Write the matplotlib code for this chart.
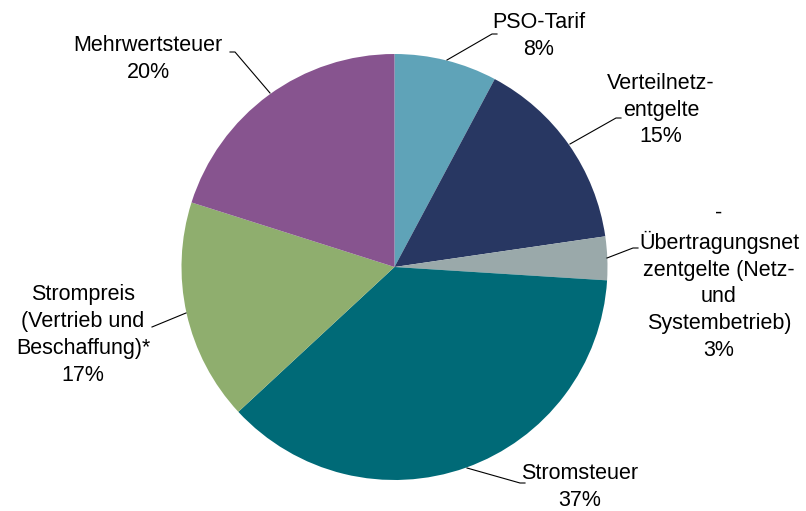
import matplotlib
matplotlib.use("Agg")
import matplotlib.pyplot as plt

categories = ["PSO-Tarif", "Verteilnetz-\nentgelte",
              "-\nÜbertragungsnet\nzentgelte (Netz-\nund\nSystembetrieb)",
              "Stromsteuer", "Strompreis\n(Vertrieb und\nBeschaffung)*",
              "Mehrwertsteuer"]
values = [7.8, 14.9, 3.3, 37.1, 16.8, 20.1]
pct_labels = ["8%", "15%", "3%", "37%", "17%", "20%"]
colors = ["#5fa3b8", "#283762", "#9aa9aa", "#006a77", "#8fae6e", "#87548f"]

W, H = 806, 511
fig = plt.figure(figsize=(W / 100, H / 100), dpi=100)
ax = fig.add_axes([0, 0, 1, 1])

cx, cy, r = 394.5, H - 267, 213
ax.pie(values, colors=colors, startangle=90, counterclock=False,
       center=(cx, cy), radius=r, frame=True,
       wedgeprops=dict(linewidth=0))
ax.set_xlim(0, W)
ax.set_ylim(0, H)
ax.set_aspect("equal")
ax.axis("off")

# label text centers (pixel coords from top) and leader lines
text_pos = [(539, 36), (661, 110), (719, 282), (580, 487), (83, 335), (148, 59)]
leaders = [
    [(447, 60), (492, 34), (497, 34)],
    [(570, 144), (616, 118), (621, 118)],
    [(607, 258), (633, 248), (638, 248)],
    [(467, 468), (520, 483), (525, 483)],
    [(152, 327), (186, 313)],
    [(230, 52), (235, 52), (270, 93)],
]
for cat, pct, (tx, ty), pts in zip(categories, pct_labels, text_pos, leaders):
    ax.text(tx, H - ty, f"{cat}\n{pct}", ha="center", va="center",
            fontsize=15.5, family="Liberation Sans", linespacing=1.36,
            color="#000000")
    xs = [p[0] for p in pts]
    ys = [H - p[1] for p in pts]
    ax.plot(xs, ys, color="#000000", linewidth=0.8)

fig.savefig("out.png", dpi=100)
